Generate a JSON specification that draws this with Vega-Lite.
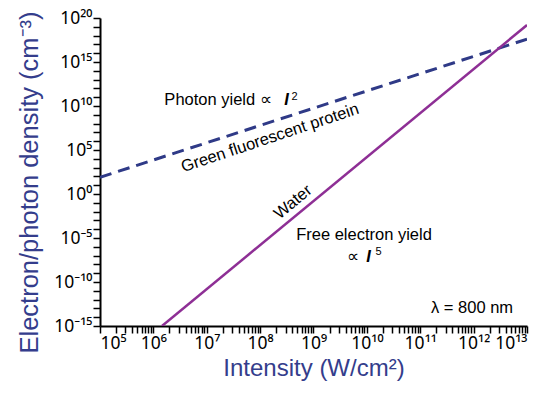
{
  "$schema": "https://vega.github.io/schema/vega-lite/v6.json",
  "width": 427,
  "height": 308,
  "autosize": {"type": "none"},
  "padding": {"left": 100, "top": 18, "right": 21, "bottom": 69},
  "config": {
    "view": {"stroke": null},
    "font": "Liberation Sans",
    "axis": {
      "domainColor": "black",
      "domainWidth": 2,
      "tickColor": "black",
      "tickWidth": 1.5,
      "labelFont": "Noto Sans",
      "labelFontSize": 17.5,
      "labelColor": "black",
      "labelOverlap": false,
      "grid": false,
      "titleFont": "Liberation Sans",
      "titleFontSize": 24,
      "titleFontWeight": "normal",
      "titleColor": "#343d8c"
    },
    "text": {"font": "Liberation Sans", "fontSize": 16.5, "color": "black"}
  },
  "datasets": {
    "lines": [
      {"series": "Photon yield, green fluorescent protein", "intensity": 1e5, "density": 79.4},
      {"series": "Photon yield, green fluorescent protein", "intensity": 1e13, "density": 3.98e17},
      {"series": "Free electron yield, water", "intensity": 1.45e6, "density": 1e-15},
      {"series": "Free electron yield, water", "intensity": 1e13, "density": 1.58e19}
    ],
    "notes": [
      {"label": "Photon yield ∝", "intensity": 1.63e7, "density": 1.3e10},
      {"label": "Free electron yield", "intensity": 8.83e9, "density": 5.93e-6},
      {"label": "∝", "intensity": 5.5e9, "density": 1.87e-8},
      {"label": "λ = 800 nm", "intensity": 9.33e11, "density": 3.0e-14}
    ],
    "italicI": [
      {"label": "I", "intensity": 3.12e8, "density": 1.3e10},
      {"label": "I", "intensity": 1.07e10, "density": 1.87e-8}
    ],
    "exponents": [
      {"label": "2", "intensity": 4.41e8, "density": 4.81e10},
      {"label": "5", "intensity": 1.65e10, "density": 1.17e-7}
    ],
    "gfp": [
      {"label": "Green fluorescent protein", "intensity": 1.53e8, "density": 2.31e6}
    ],
    "water": [
      {"label": "Water", "intensity": 4.13e8, "density": 0.123}
    ]
  },
  "encoding": {
    "x": {
      "field": "intensity",
      "type": "quantitative",
      "scale": {"type": "log", "domain": [1e5, 1e13], "nice": false},
      "axis": {
        "title": "Intensity (W/cm²)",
        "titlePadding": 5,
        "labelPadding": 1,
        "tickSize": 7,
        "values": [1e5,2e5,3e5,4e5,5e5,6e5,7e5,8e5,9e5,1e6,2e6,3e6,4e6,5e6,6e6,7e6,8e6,9e6,1e7,2e7,3e7,4e7,5e7,6e7,7e7,8e7,9e7,1e8,2e8,3e8,4e8,5e8,6e8,7e8,8e8,9e8,1e9,2e9,3e9,4e9,5e9,6e9,7e9,8e9,9e9,1e10,2e10,3e10,4e10,5e10,6e10,7e10,8e10,9e10,1e11,2e11,3e11,4e11,5e11,6e11,7e11,8e11,9e11,1e12,2e12,3e12,4e12,5e12,6e12,7e12,8e12,9e12,1e13],
        "labelExpr": "abs(log(datum.value)/LN10 - round(log(datum.value)/LN10)) < 0.0001 ? '10' + (round(log(datum.value)/LN10) >= 10 ? '¹' + ['⁰','¹','²','³'][round(log(datum.value)/LN10) - 10] : ['⁰','¹','²','³','⁴','⁵','⁶','⁷','⁸','⁹'][round(log(datum.value)/LN10)]) : ''",
        "encode": {
          "ticks": {
            "update": {
              "y2": {"signal": "abs(log(datum.value)/LN10 - round(log(datum.value)/LN10)) < 0.0001 ? 7 : -4"}
            }
          }
        }
      }
    },
    "y": {
      "field": "density",
      "type": "quantitative",
      "scale": {"type": "log", "domain": [1e-15, 1e20], "nice": false},
      "axis": {
        "title": "Electron/photon density (cm⁻³)",
        "titleFontSize": 25.5,
        "titlePadding": 11,
        "titleY": 164,
        "labelPadding": 1,
        "tickSize": 7,
        "values": [1e-15,1e-14,1e-13,1e-12,1e-11,1e-10,1e-9,1e-8,1e-7,1e-6,1e-5,1e-4,1e-3,1e-2,1e-1,1,10,100,1e3,1e4,1e5,1e6,1e7,1e8,1e9,1e10,1e11,1e12,1e13,1e14,1e15,1e16,1e17,1e18,1e19,1e20],
        "labelExpr": "round(log(datum.value)/LN10) % 5 == 0 ? '10' + (datum.value < 0.5 ? '⁻' : '') + ['', '¹', '²'][floor(abs(round(log(datum.value)/LN10))/10)] + (abs(round(log(datum.value)/LN10)) % 10 == 5 ? '⁵' : '⁰') : ''",
        "encode": {
          "ticks": {
            "update": {
              "x2": {"signal": "round(log(datum.value)/LN10) % 5 == 0 ? -7 : -4"}
            }
          }
        }
      }
    }
  },
  "layer": [
    {
      "data": {"name": "lines"},
      "transform": [{"filter": "datum.series == 'Photon yield, green fluorescent protein'"}],
      "mark": {"type": "line", "color": "#2f3a87", "strokeWidth": 3, "strokeDash": [12, 7], "clip": true}
    },
    {
      "data": {"name": "lines"},
      "transform": [{"filter": "datum.series == 'Free electron yield, water'"}],
      "mark": {"type": "line", "color": "#8e2f95", "strokeWidth": 2.5, "clip": true}
    },
    {
      "data": {"name": "notes"},
      "mark": {"type": "text", "align": "center", "baseline": "alphabetic"},
      "encoding": {"text": {"field": "label"}}
    },
    {
      "data": {"name": "italicI"},
      "mark": {"type": "text", "align": "center", "baseline": "alphabetic", "fontStyle": "italic", "fontWeight": "bold"},
      "encoding": {"text": {"field": "label"}}
    },
    {
      "data": {"name": "exponents"},
      "mark": {"type": "text", "align": "center", "baseline": "alphabetic", "fontSize": 11},
      "encoding": {"text": {"field": "label"}}
    },
    {
      "data": {"name": "gfp"},
      "mark": {"type": "text", "align": "center", "baseline": "middle", "angle": 341.5},
      "encoding": {"text": {"field": "label"}}
    },
    {
      "data": {"name": "water"},
      "mark": {"type": "text", "align": "center", "baseline": "middle", "angle": 320.5},
      "encoding": {"text": {"field": "label"}}
    }
  ]
}
